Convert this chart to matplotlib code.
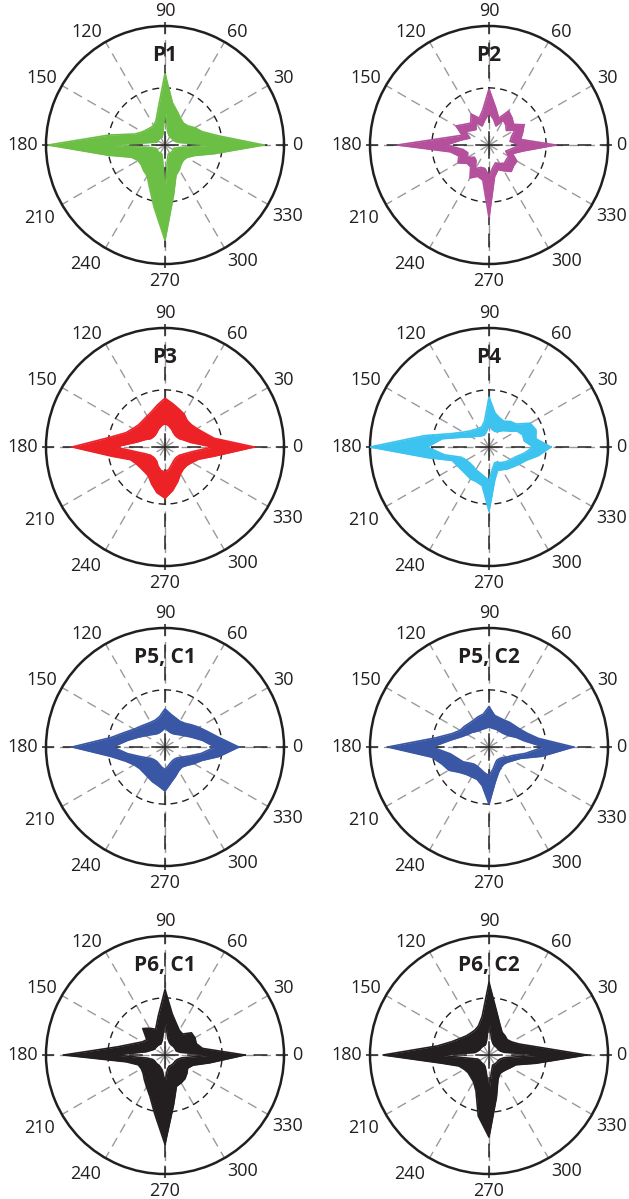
import numpy as np
import matplotlib
matplotlib.use("Agg")
import matplotlib.pyplot as plt

plt.rcParams['font.family'] = ['Open Sans', 'DejaVu Sans']

# angle (deg) at which each radius was read, 10 deg steps
angles = list(range(0, 360, 10))

titles = ['P1', 'P2', 'P3', 'P4', 'P5, C1', 'P5, C2', 'P6, C1', 'P6, C2']
colors = ['#6cbf45', '#b4509c', '#ec2227', '#3dc3ef', '#3a57a6', '#3a57a6', '#231f20', '#231f20']

# outer / inner envelope of the bundle of traces (fraction of outer circle)
p1_outer = [0.83, 0.45, 0.33, 0.29, 0.25, 0.24, 0.26, 0.30, 0.36, 0.60, 0.32, 0.22,
            0.19, 0.19, 0.20, 0.22, 0.27, 0.48, 0.98, 0.49, 0.30, 0.26, 0.26, 0.28,
            0.30, 0.38, 0.53, 0.80, 0.42, 0.27, 0.24, 0.21, 0.20, 0.21, 0.26, 0.42]
p1_inner = [0.42, 0.12, 0.09, 0.08, 0.08, 0.08, 0.08, 0.09, 0.12, 0.31, 0.10, 0.07,
            0.07, 0.07, 0.07, 0.07, 0.07, 0.12, 0.50, 0.12, 0.08, 0.08, 0.08, 0.08,
            0.08, 0.08, 0.12, 0.40, 0.12, 0.08, 0.08, 0.08, 0.08, 0.08, 0.08, 0.12]

p2_outer = [0.56, 0.27, 0.30, 0.34, 0.27, 0.30, 0.33, 0.24, 0.32, 0.47, 0.30, 0.24,
            0.30, 0.24, 0.27, 0.32, 0.24, 0.36, 0.77, 0.33, 0.27, 0.30, 0.24, 0.24,
            0.32, 0.28, 0.30, 0.61, 0.27, 0.22, 0.25, 0.29, 0.27, 0.27, 0.21, 0.29]
p2_inner = [0.26, 0.18, 0.20, 0.25, 0.19, 0.22, 0.24, 0.17, 0.22, 0.27, 0.21, 0.17,
            0.22, 0.17, 0.19, 0.23, 0.17, 0.24, 0.36, 0.22, 0.19, 0.21, 0.16, 0.17,
            0.23, 0.20, 0.20, 0.26, 0.19, 0.16, 0.18, 0.20, 0.19, 0.19, 0.15, 0.19]

p3_outer = [0.75, 0.42, 0.35, 0.31, 0.29, 0.29, 0.32, 0.34, 0.37, 0.41, 0.36, 0.32,
            0.30, 0.29, 0.29, 0.31, 0.35, 0.47, 0.78, 0.45, 0.31, 0.28, 0.27, 0.27,
            0.28, 0.33, 0.39, 0.43, 0.37, 0.31, 0.26, 0.24, 0.24, 0.26, 0.30, 0.43]
p3_inner = [0.40, 0.22, 0.17, 0.14, 0.13, 0.13, 0.14, 0.16, 0.18, 0.20, 0.18, 0.16,
            0.14, 0.13, 0.13, 0.14, 0.18, 0.24, 0.42, 0.24, 0.17, 0.14, 0.13, 0.13,
            0.14, 0.17, 0.20, 0.21, 0.19, 0.16, 0.14, 0.13, 0.13, 0.14, 0.17, 0.23]

p4_outer = [0.52, 0.40, 0.42, 0.40, 0.30, 0.28, 0.25, 0.26, 0.29, 0.42, 0.22, 0.18,
            0.18, 0.19, 0.21, 0.25, 0.33, 0.55, 1.00, 0.52, 0.33, 0.31, 0.30, 0.30,
            0.31, 0.31, 0.33, 0.54, 0.28, 0.21, 0.22, 0.24, 0.26, 0.29, 0.33, 0.42]
p4_inner = [0.37, 0.30, 0.30, 0.27, 0.21, 0.18, 0.15, 0.14, 0.15, 0.18, 0.13, 0.11,
            0.11, 0.12, 0.14, 0.17, 0.24, 0.40, 0.52, 0.38, 0.25, 0.22, 0.21, 0.21,
            0.22, 0.23, 0.25, 0.28, 0.18, 0.14, 0.15, 0.17, 0.19, 0.21, 0.24, 0.30]

p5c1_outer = [0.62, 0.46, 0.38, 0.33, 0.29, 0.26, 0.25, 0.26, 0.28, 0.32, 0.26, 0.24,
              0.24, 0.25, 0.27, 0.30, 0.36, 0.46, 0.78, 0.46, 0.35, 0.30, 0.28, 0.28,
              0.29, 0.31, 0.33, 0.37, 0.30, 0.26, 0.23, 0.22, 0.24, 0.28, 0.33, 0.46]
p5c1_inner = [0.42, 0.32, 0.24, 0.19, 0.16, 0.14, 0.13, 0.13, 0.14, 0.16, 0.14, 0.13,
              0.13, 0.14, 0.16, 0.19, 0.24, 0.32, 0.44, 0.32, 0.23, 0.18, 0.15, 0.14,
              0.14, 0.15, 0.17, 0.19, 0.16, 0.14, 0.13, 0.13, 0.14, 0.17, 0.22, 0.31]

p5c2_outer = [0.71, 0.42, 0.34, 0.30, 0.28, 0.27, 0.26, 0.26, 0.27, 0.34, 0.28, 0.27,
              0.26, 0.26, 0.27, 0.28, 0.33, 0.45, 0.85, 0.49, 0.42, 0.39, 0.33, 0.30,
              0.29, 0.29, 0.33, 0.48, 0.30, 0.23, 0.20, 0.19, 0.20, 0.23, 0.28, 0.45]
p5c2_inner = [0.46, 0.30, 0.24, 0.19, 0.17, 0.16, 0.16, 0.16, 0.16, 0.17, 0.16, 0.16,
              0.16, 0.17, 0.19, 0.21, 0.25, 0.33, 0.48, 0.33, 0.28, 0.25, 0.21, 0.19,
              0.19, 0.20, 0.22, 0.24, 0.19, 0.15, 0.13, 0.13, 0.14, 0.17, 0.21, 0.31]

p6c1_outer = [0.67, 0.32, 0.28, 0.29, 0.29, 0.23, 0.24, 0.28, 0.35, 0.55, 0.33, 0.23,
              0.26, 0.29, 0.20, 0.22, 0.28, 0.40, 0.85, 0.33, 0.24, 0.23, 0.24, 0.27,
              0.31, 0.37, 0.50, 0.75, 0.42, 0.28, 0.27, 0.26, 0.24, 0.22, 0.25, 0.38]
p6c1_inner = [0.40, 0.13, 0.10, 0.10, 0.10, 0.10, 0.10, 0.11, 0.14, 0.30, 0.13, 0.10,
              0.10, 0.10, 0.10, 0.10, 0.12, 0.16, 0.42, 0.15, 0.11, 0.10, 0.10, 0.10,
              0.10, 0.11, 0.13, 0.23, 0.12, 0.10, 0.10, 0.10, 0.10, 0.10, 0.11, 0.14]

p6c2_outer = [0.82, 0.40, 0.27, 0.22, 0.20, 0.21, 0.22, 0.27, 0.37, 0.61, 0.33, 0.26,
              0.24, 0.24, 0.25, 0.28, 0.33, 0.44, 0.89, 0.40, 0.27, 0.24, 0.23, 0.24,
              0.26, 0.32, 0.52, 0.69, 0.36, 0.22, 0.18, 0.18, 0.19, 0.21, 0.24, 0.40]
p6c2_inner = [0.45, 0.13, 0.10, 0.09, 0.09, 0.09, 0.09, 0.10, 0.13, 0.29, 0.12, 0.09,
              0.09, 0.09, 0.09, 0.09, 0.10, 0.12, 0.43, 0.16, 0.10, 0.09, 0.09, 0.09,
              0.09, 0.10, 0.14, 0.30, 0.13, 0.09, 0.09, 0.09, 0.09, 0.09, 0.10, 0.13]

outers = [p1_outer, p2_outer, p3_outer, p4_outer, p5c1_outer, p5c2_outer, p6c1_outer, p6c2_outer]
inners = [p1_inner, p2_inner, p3_inner, p4_inner, p5c1_inner, p5c2_inner, p6c1_inner, p6c2_inner]

tick_deg = list(range(0, 360, 30))
tick_lbl = [str(d) for d in tick_deg]

# panel centres in pixels
W, H = 629, 1199
centres = [(165, 145), (489, 145), (165, 447), (489, 447),
           (165, 747), (489, 747), (165, 1055), (489, 1055)]
R = 119

fig = plt.figure(figsize=(W / 100, H / 100), dpi=100)

for i in range(8):
    cx, cy = centres[i]
    ax = fig.add_axes([(cx - R) / W, 1 - (cy + R) / H, 2 * R / W, 2 * R / H],
                      projection='polar')
    ax.set_ylim(0, 1)
    ax.set_axisbelow(True)
    ax.set_xticks(np.deg2rad(tick_deg))
    ax.set_xticklabels([])
    ax.xaxis.grid(True, color='#9a9a9a', lw=1.0, ls=(0, (7, 4.5)))
    ax.set_yticks([0.48])
    ax.set_yticklabels([])
    ax.yaxis.grid(True, color='#231f20', lw=1.0, ls=(0, (5, 3.6)))
    ax.spines['polar'].set_linewidth(1.8)
    ax.spines['polar'].set_color('#231f20')

    # angle labels just outside the circle
    for d, lab in zip(tick_deg, tick_lbl):
        c, s = np.cos(np.deg2rad(d)), np.sin(np.deg2rad(d))
        ha = 'left' if c > 0.1 else ('right' if c < -0.1 else 'center')
        r_lab = 1.07
        if s > 0.9:
            va, r_lab = 'baseline', 1.08
        elif s > 0.1:
            va, r_lab = 'baseline', 1.05
        elif s < -0.1:
            va = 'top'
        else:
            va = 'center'
        if c > 0.1 and s < -0.1:
            r_lab = 1.04
        ax.text(np.deg2rad(d), r_lab, lab, ha=ha, va=va, fontsize=13,
                color='#231f20', clip_on=False)

    # black dashed main axes
    for d in [0, 90, 180, 270]:
        t = np.deg2rad(d)
        ax.plot([t, t], [0, 1.03], color='#231f20', lw=1.1, ls=(0, (9, 5.5)),
                zorder=2.6, clip_on=False)

    th = np.deg2rad(angles + [360])
    ro = np.array(outers[i] + outers[i][:1])
    ri = np.array(inners[i] + inners[i][:1])
    ax.fill_between(th, ri, ro, color=colors[i], lw=0, zorder=3)
    ax.plot(th, ro, color=colors[i], lw=1.2, zorder=3)
    ax.plot(th, ri, color=colors[i], lw=1.2, zorder=3)

    ax.text(np.pi / 2, 0.75, titles[i], ha='center', va='center',
            fontsize=15, fontweight='bold', color='#231f20')

fig.savefig('out.png', dpi=100)
